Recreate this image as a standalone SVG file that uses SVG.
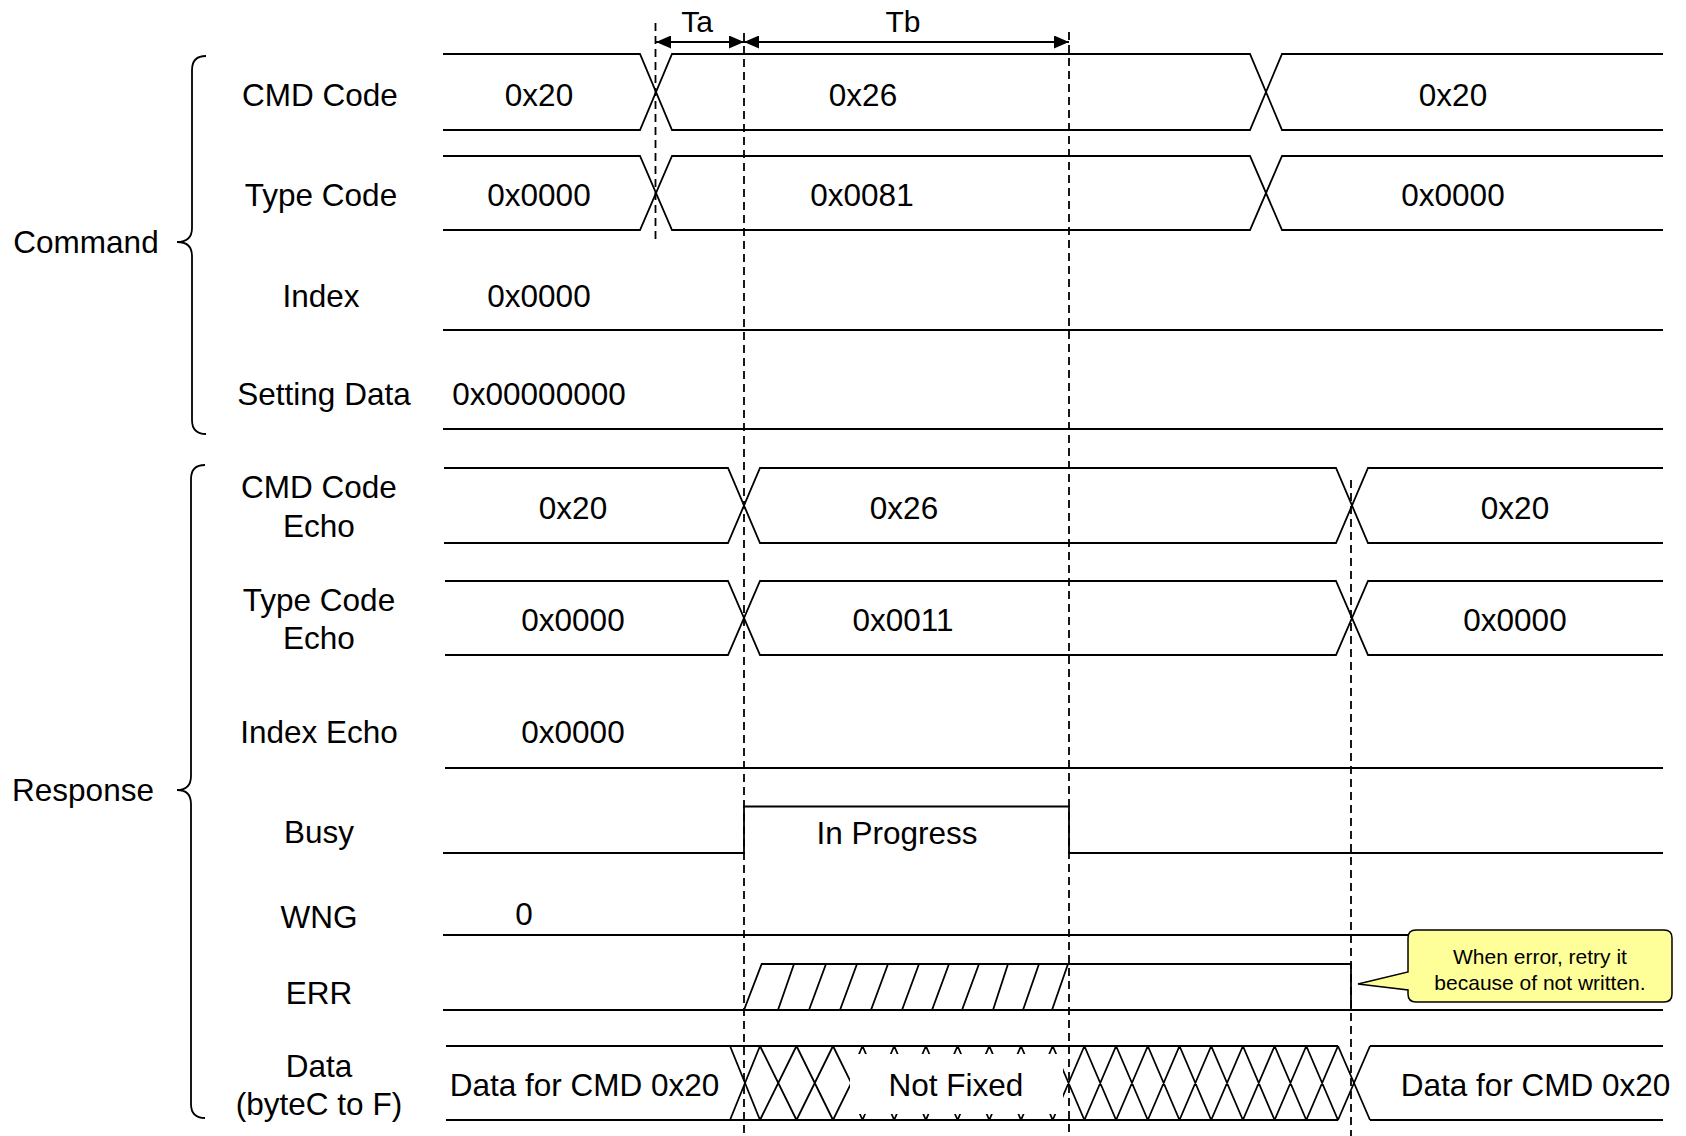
<svg xmlns="http://www.w3.org/2000/svg" width="1686" height="1136" viewBox="0 0 1686 1136">
<style>
.t{font-family:"Liberation Sans",Arial,sans-serif;font-size:31.5px;fill:#000;text-anchor:middle}
.tt{font-family:"Liberation Sans",Arial,sans-serif;font-size:30px;fill:#000;text-anchor:middle}
.c{font-family:"Liberation Sans",Arial,sans-serif;font-size:21px;fill:#000;text-anchor:middle}
.s{fill:none;stroke:#000;stroke-width:1.8}
.d{fill:none;stroke:#000;stroke-width:1.8;stroke-dasharray:8 5}
.a{fill:none;stroke:#000;stroke-width:2;marker-start:url(#ah);marker-end:url(#ah)}
</style>
<defs>
<marker id="ah" viewBox="0 0 15 13" refX="15" refY="6.5" markerWidth="15" markerHeight="13" markerUnits="userSpaceOnUse" orient="auto-start-reverse"><path d="M0,0 L15,6.5 L0,13 Z" fill="#000"/></marker>
<clipPath id="cl"><rect x="0" y="0" width="850" height="1136"/></clipPath>
<clipPath id="cr"><rect x="850" y="0" width="836" height="1136"/></clipPath>
</defs>
<rect width="1686" height="1136" fill="#fff"/>

<g id="command">
<path class="s" d="M206,56 Q192,56 192,70 L192,228 Q192,242 177,242 Q192,242 192,256 L192,420 Q192,434 206,434"/>
<text class="t" x="86" y="253">Command</text>
</g>

<g id="cmd-code">
<text class="t" x="320" y="105.5">CMD Code</text>
<path class="s" d="M443,54 H640 L672,130 H1250 L1282,54 H1663 M443,130 H640 L672,54 H1250 L1282,130 H1663"/>
<text class="t" x="539" y="105.5">0x20</text>
<text class="t" x="863" y="105.5">0x26</text>
<text class="t" x="1453" y="105.5">0x20</text>
</g>

<g id="type-code">
<text class="t" x="321" y="205.5">Type Code</text>
<path class="s" d="M443,156 H640 L672,230 H1250 L1282,156 H1663 M443,230 H640 L672,156 H1250 L1282,230 H1663"/>
<text class="t" x="539" y="205.5">0x0000</text>
<text class="t" x="862" y="205.5">0x0081</text>
<text class="t" x="1453" y="205.5">0x0000</text>
</g>

<g id="index">
<text class="t" x="321" y="306.5">Index</text>
<path class="s" d="M443,330 H1663"/>
<text class="t" x="539" y="306.5">0x0000</text>
</g>

<g id="setting-data">
<text class="t" x="324" y="404.5">Setting Data</text>
<path class="s" d="M443,429 H1663"/>
<text class="t" x="539" y="404.5">0x00000000</text>
</g>

<g id="response">
<path class="s" d="M205,465 Q191,465 191,479 L191,776 Q191,790 177,790 Q191,790 191,804 L191,1104 Q191,1118 205,1118"/>
<text class="t" x="83" y="801">Response</text>
</g>

<g id="cmd-code-echo">
<text class="t" x="319" y="498">CMD Code</text>
<text class="t" x="319" y="537">Echo</text>
<path class="s" d="M444,468 H728 L760,543 H1336 L1368,468 H1663 M444,543 H728 L760,468 H1336 L1368,543 H1663"/>
<text class="t" x="573" y="518.5">0x20</text>
<text class="t" x="904" y="518.5">0x26</text>
<text class="t" x="1515" y="518.5">0x20</text>
</g>

<g id="type-code-echo">
<text class="t" x="319" y="611">Type Code</text>
<text class="t" x="319" y="649">Echo</text>
<path class="s" d="M445,581 H728 L760,655 H1336 L1368,581 H1663 M445,655 H728 L760,581 H1336 L1368,655 H1663"/>
<text class="t" x="573" y="630.5">0x0000</text>
<text class="t" x="903" y="630.5">0x0011</text>
<text class="t" x="1515" y="630.5">0x0000</text>
</g>

<g id="index-echo">
<text class="t" x="319" y="743">Index Echo</text>
<path class="s" d="M445,768 H1663"/>
<text class="t" x="573" y="743">0x0000</text>
</g>

<g id="busy">
<text class="t" x="319" y="843">Busy</text>
<path class="s" d="M443,853 H744 V806.5 H1069 V853 H1663"/>
<text class="t" x="897" y="844">In Progress</text>
</g>

<g id="wng">
<text class="t" x="319" y="928">WNG</text>
<path class="s" d="M443,935 H1663"/>
<text class="t" x="524" y="925">0</text>
</g>

<g id="err">
<text class="t" x="319" y="1003.5">ERR</text>
<path class="s" d="M443,1010 H1663"/>
<path class="s" d="M744,1010 L761.7,964 H1351 V1010 M778,1010 L794,964 M809,1010 L826,964 M840,1010 L857,964 M871,1010 L888,964 M902,1010 L919,964 M932,1010 L949,964 M962,1010 L979,964 M993,1010 L1008,964 M1023,1010 L1039,964 M1052,1010 L1068,964"/>
</g>

<g id="data">
<text class="t" x="319" y="1077">Data</text>
<text class="t" x="319" y="1115">(byteC to F)</text>
<path class="s" d="M446,1046 H1338 M446,1120 H1338 M1370,1046 H1663 M1370,1120 H1663 M1338,1046 L1370,1120 M1338,1120 L1370,1046"/>
<path class="s" clip-path="url(#cl)" d="M730,1046 L760,1120 M730,1120 L760,1046 M760,1046 L796.5,1120 M760,1120 L796.5,1046 M796.5,1046 L833,1120 M796.5,1120 L833,1046 M833,1046 L869.5,1120 M833,1120 L869.5,1046"/>
<path class="s" clip-path="url(#cr)" d="M830.8,1046 L862.5,1120 M830.8,1120 L862.5,1046 M862.5,1046 L894.2,1120 M862.5,1120 L894.2,1046 M894.2,1046 L925.9,1120 M894.2,1120 L925.9,1046 M925.9,1046 L957.6,1120 M925.9,1120 L957.6,1046 M957.6,1046 L989.3,1120 M957.6,1120 L989.3,1046 M989.3,1046 L1021,1120 M989.3,1120 L1021,1046 M1021,1046 L1052.7,1120 M1021,1120 L1052.7,1046 M1052.7,1046 L1084.4,1120 M1052.7,1120 L1084.4,1046 M1084.4,1046 L1116.1,1120 M1084.4,1120 L1116.1,1046 M1116.1,1046 L1147.8,1120 M1116.1,1120 L1147.8,1046 M1147.8,1046 L1179.5,1120 M1147.8,1120 L1179.5,1046 M1179.5,1046 L1211.2,1120 M1179.5,1120 L1211.2,1046 M1211.2,1046 L1242.9,1120 M1211.2,1120 L1242.9,1046 M1242.9,1046 L1274.6,1120 M1242.9,1120 L1274.6,1046 M1274.6,1046 L1306.3,1120 M1274.6,1120 L1306.3,1046 M1306.3,1046 L1338,1120 M1306.3,1120 L1338,1046"/>
<rect x="850" y="1054" width="213" height="60" fill="#fff"/>
<text class="t" x="584.5" y="1096">Data for CMD 0x20</text>
<text class="t" x="956" y="1096">Not Fixed</text>
<text class="t" x="1535.5" y="1096">Data for CMD 0x20</text>
</g>

<g id="connectors">
<path class="d" d="M655.5,23 V240"/>
<path class="d" d="M744,33 V1136"/>
<path class="d" d="M1069,32 V1136"/>
<path class="d" d="M1351,480 V1136"/>
<path class="a" d="M656,42 H744"/>
<path class="a" d="M744,42 H1069"/>
<text class="tt" x="697" y="32">Ta</text>
<text class="tt" x="903" y="32">Tb</text>
</g>

<g id="callout">
<path d="M1416,930 H1664 Q1672,930 1672,938 V994 Q1672,1002 1664,1002 H1416 Q1408,1002 1408,994 V990 L1358,984 L1408,972 V938 Q1408,930 1416,930 Z" fill="#ffff99" stroke="#000" stroke-width="1.5"/>
<text class="c" x="1540" y="963.5">When error, retry it</text>
<text class="c" x="1540" y="989.5">because of not written.</text>
</g>
</svg>
